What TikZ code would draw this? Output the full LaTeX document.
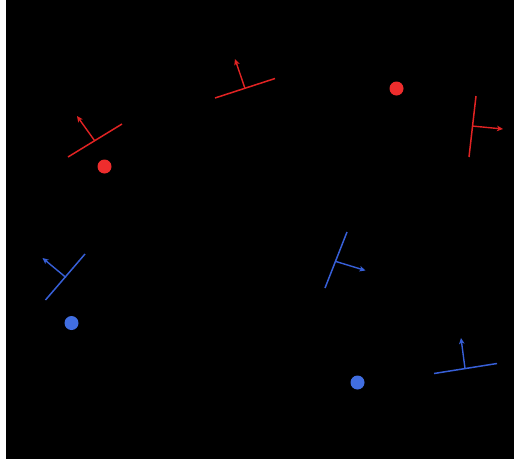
\documentclass[tikz,border=0pt]{standalone}
\usetikzlibrary{arrows.meta}
\definecolor{segred}{RGB}{225,35,35}
\definecolor{dotred}{RGB}{238,45,45}
\definecolor{segblue}{RGB}{55,95,215}
\definecolor{dotblue}{RGB}{65,110,225}
\tikzset{
  wall/.style={line width=1.5pt},
  normal/.style={line width=1.4pt,-{Stealth[length=6pt,width=5.5pt,inset=1.5pt]}},
  dot/.style={circle,inner sep=0pt,minimum size=14pt}
}
\begin{document}
\begin{tikzpicture}[x=1pt,y=-1pt]
\useasboundingbox (0,0) rectangle (514,459);
\fill[white] (0,0) rectangle (514,459);
\fill[black] (6,0) rectangle (514,459);
% red group
\coordinate (r1a) at (68,157); \coordinate (r1b) at (122,124);
\coordinate (r1c) at (94.5,140.5); \coordinate (r1t) at (77,116);
\coordinate (r2a) at (215,98); \coordinate (r2b) at (275,78.5);
\coordinate (r2c) at (245,88.5); \coordinate (r2t) at (235,59);
\coordinate (r3a) at (476,96); \coordinate (r3b) at (469,157);
\coordinate (r3c) at (472,126); \coordinate (r3t) at (503,129);
\draw[wall,segred] (r1a) -- (r1b);
\draw[normal,segred] (r1c) -- (r1t);
\draw[wall,segred] (r2a) -- (r2b);
\draw[normal,segred] (r2c) -- (r2t);
\draw[wall,segred] (r3a) -- (r3b);
\draw[normal,segred] (r3c) -- (r3t);
\node[dot,fill=dotred] (rd1) at (104.5,166.5) {};
\node[dot,fill=dotred] (rd2) at (396.5,88.5) {};
% blue group
\coordinate (b1a) at (85,254); \coordinate (b1b) at (45.5,300);
\coordinate (b1c) at (66,277.5); \coordinate (b1t) at (42.5,258);
\coordinate (b2a) at (347,232); \coordinate (b2b) at (325,288);
\coordinate (b2c) at (336,261.5); \coordinate (b2t) at (365.5,270.5);
\coordinate (b3a) at (434,373.5); \coordinate (b3b) at (497,363.5);
\coordinate (b3c) at (465,368.5); \coordinate (b3t) at (461,338);
\draw[wall,segblue] (b1a) -- (b1b);
\draw[normal,segblue] (b1c) -- (b1t);
\draw[wall,segblue] (b2a) -- (b2b);
\draw[normal,segblue] (b2c) -- (b2t);
\draw[wall,segblue] (b3a) -- (b3b);
\draw[normal,segblue] (b3c) -- (b3t);
\node[dot,fill=dotblue] (bd1) at (71.5,323) {};
\node[dot,fill=dotblue] (bd2) at (357.5,382.5) {};
\end{tikzpicture}
\end{document}
